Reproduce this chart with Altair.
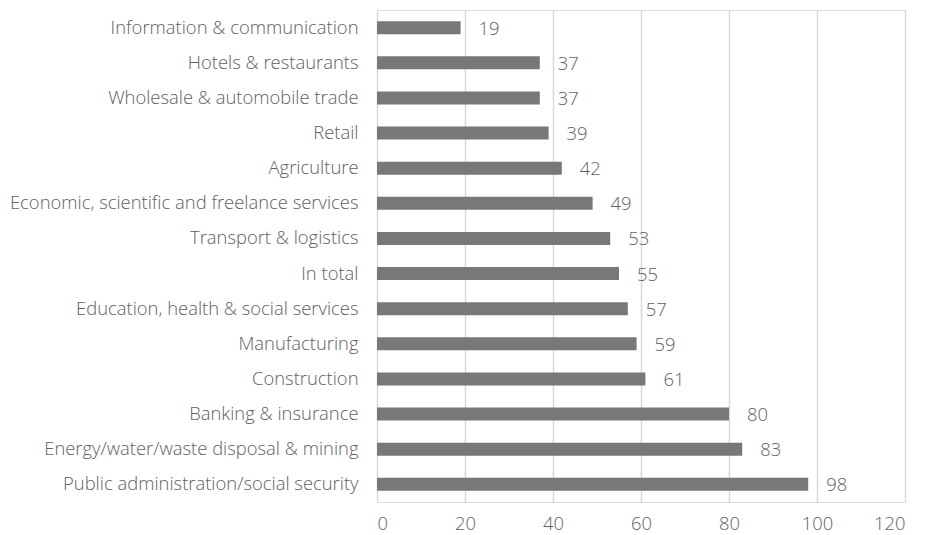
import altair as alt
import pandas as pd

categories = [
    "Information & communication",
    "Hotels & restaurants",
    "Wholesale & automobile trade",
    "Retail",
    "Agriculture",
    "Economic, scientific and freelance services",
    "Transport & logistics",
    "In total",
    "Education, health & social services",
    "Manufacturing",
    "Construction",
    "Banking & insurance",
    "Energy/water/waste disposal & mining",
    "Public administration/social security",
]
values = [19, 37, 37, 39, 42, 49, 53, 55, 57, 59, 61, 80, 83, 98]
x_ticks = [0, 20, 40, 60, 80, 100, 120]

df = pd.DataFrame({"category": categories, "value": values})

FONT = "Open Sans"
TXT = "#616161"
FS = 18.4
FW = 300

y_enc = alt.Y(
    "category:N",
    sort=categories,
    title=None,
    scale=alt.Scale(paddingInner=0.63, paddingOuter=0.32),
    axis=alt.Axis(
        labelFont=FONT, labelFontSize=FS, labelFontWeight=FW, labelColor=TXT, labelPadding=19,
        ticks=False, domain=False, grid=False, labelLimit=400,
        minExtent=369, maxExtent=369,
    ),
)
x_enc = alt.X(
    "value:Q",
    title=None,
    scale=alt.Scale(domain=[0, 120], nice=False),
    axis=alt.Axis(
        values=x_ticks, labelFont=FONT, labelFontSize=FS, labelFontWeight=FW, labelColor=TXT,
        ticks=False, domain=False, grid=True, gridColor="#d9d9d9", gridWidth=1.5,
        labelPadding=12,
    ),
)

bars = alt.Chart(df).mark_bar(color="#76787a").encode(x=x_enc, y=y_enc)
labels = alt.Chart(df).mark_text(
    align="left", baseline="middle", dx=18, dy=1, font=FONT, fontSize=FS, fontWeight=FW, color=TXT
).encode(x="value:Q", y=alt.Y("category:N", sort=categories), text="value:Q")

chart = (
    alt.layer(bars, labels)
    .properties(width=528, height=492, padding={"left": 0, "top": 2, "right": 5, "bottom": 5})
    .configure_view(stroke=None)
    .configure(background="white")
)

chart.save("out.html", embed_options={"renderer": "svg", "actions": False})
